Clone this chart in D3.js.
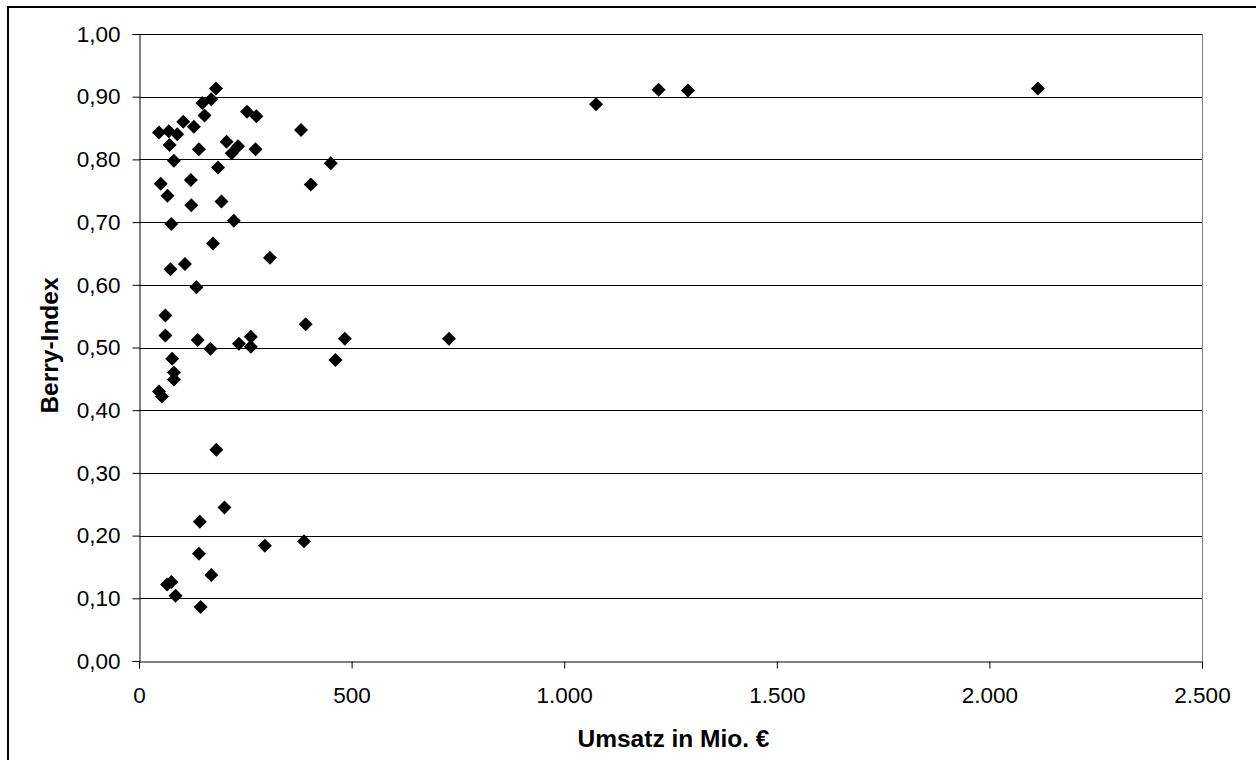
<!DOCTYPE html>
<html>
<head>
<meta charset="utf-8">
<script src="https://cdn.jsdelivr.net/npm/d3@7"></script>
<style>
    body { margin: 0; background: #fff; }
    svg { display: block; font-family: Arial, "Liberation Sans", sans-serif; }
</style>
</head>
<body>
<svg id="chart"></svg>
<script>
// Umsatz in Mio. € (x) and Berry-Index (y)
let umsatz = [181, 170, 149, 154, 254, 276, 104, 129, 47, 70, 90, 72, 381, 141, 206, 233, 218, 274,
    82, 186, 451, 51, 122, 404, 67, 123, 194, 76, 223, 174, 308, 74, 108, 135, 62, 62, 138, 168, 235,
    263, 263, 392, 484, 462, 78, 82, 82, 47, 54, 182, 201, 143, 141, 170, 296, 388, 66, 76, 86, 145,
    729, 1075, 1222, 1291, 2114];
let berry = [0.913, 0.896, 0.890, 0.870, 0.876, 0.869, 0.860, 0.852, 0.843, 0.845, 0.840, 0.823, 0.847,
    0.816, 0.828, 0.821, 0.810, 0.816, 0.798, 0.787, 0.794, 0.761, 0.767, 0.760, 0.742, 0.727, 0.733,
    0.697, 0.702, 0.666, 0.643, 0.625, 0.633, 0.596, 0.551, 0.519, 0.512, 0.498, 0.506, 0.517, 0.501,
    0.537, 0.514, 0.480, 0.482, 0.460, 0.449, 0.430, 0.422, 0.337, 0.245, 0.222, 0.171, 0.137, 0.184,
    0.191, 0.122, 0.126, 0.104, 0.086, 0.514, 0.888, 0.911, 0.910, 0.913];
let xTicks = [0, 500, 1000, 1500, 2000, 2500];
let yTicks = [0, 0.1, 0.2, 0.3, 0.4, 0.5, 0.6, 0.7, 0.8, 0.9, 1.0];

let width = 1256,
    height = 760;

let margin = {
    left: 139,
    right: 54,
    top: 34,
    bottom: 99
};

let de = d3.formatLocale({ decimal: ',', thousands: '.', grouping: [3], currency: ['', ' €'] });

let svg = d3.select('#chart')
    .attr('width', width)
    .attr('height', height);

// outer chart frame (right and bottom edges fall outside the picture)
svg.append('rect')
    .attr('x', 8)
    .attr('y', 7)
    .attr('width', 1256)
    .attr('height', 760)
    .attr('fill', 'none')
    .attr('stroke', '#000')
    .attr('stroke-width', 2);

let scaleX = d3.scaleLinear()
    .domain([0, 2500])
    .range([margin.left, width - margin.right]);

let scaleY = d3.scaleLinear()
    .domain([0, 1])
    .range([height - margin.bottom, margin.top]);

// gridlines
svg.append('g')
    .selectAll('line')
    .data(yTicks.slice(1))
    .enter()
    .append('line')
    .attr('x1', scaleX(0))
    .attr('x2', scaleX(2500))
    .attr('y1', d => Math.round(scaleY(d)) + 0.5)
    .attr('y2', d => Math.round(scaleY(d)) + 0.5)
    .attr('stroke', '#000')
    .attr('stroke-width', 1);

// right border of the plot area
svg.append('line')
    .attr('x1', Math.round(scaleX(2500)) + 0.5)
    .attr('x2', Math.round(scaleX(2500)) + 0.5)
    .attr('y1', scaleY(1))
    .attr('y2', scaleY(0))
    .attr('stroke', '#808080');

// x axis
let xAxis = d3.axisBottom(scaleX)
    .tickValues(xTicks)
    .tickSize(7)
    .tickPadding(19)
    .tickFormat(de.format(',.0f'));

let xAxisG = svg.append('g')
    .attr('transform', `translate(0, ${Math.round(scaleY(0)) + 0.5})`)
    .call(xAxis);

// y axis
let yAxis = d3.axisLeft(scaleY)
    .tickValues(yTicks)
    .tickSize(7)
    .tickPadding(12)
    .tickFormat(de.format('.2f'));

let yAxisG = svg.append('g')
    .attr('transform', `translate(${Math.round(scaleX(0)) + 0.5}, 0)`)
    .call(yAxis);

[xAxisG, yAxisG].forEach(g => {
    g.select('.domain').attr('stroke', '#000');
    g.selectAll('.tick line').attr('stroke', '#000');
    g.selectAll('.tick text')
        .attr('fill', '#000')
        .style('font-size', '22.5px')
        .style('font-family', 'Arial, "Liberation Sans", sans-serif');
});

// axis titles
svg.append('text')
    .attr('x', (scaleX(0) + scaleX(2500)) / 2 + 3)
    .attr('y', 747)
    .attr('text-anchor', 'middle')
    .style('font-size', '24.5px')
    .style('font-weight', 'bold')
    .text('Umsatz in Mio. €');

svg.append('text')
    .attr('transform', `translate(58, ${(scaleY(0) + scaleY(1)) / 2 - 2}) rotate(-90)`)
    .attr('text-anchor', 'middle')
    .style('font-size', '24.5px')
    .style('font-weight', 'bold')
    .text('Berry-Index');

// diamonds
let points = umsatz.map((u, i) => ({ u: u, b: berry[i] }));
let r = 7;

svg.append('g')
    .selectAll('path')
    .data(points)
    .enter()
    .append('path')
    .attr('d', `M0,${-r}L${r},0L0,${r}L${-r},0Z`)
    .attr('transform', d => `translate(${scaleX(d.u)}, ${scaleY(d.b)})`)
    .attr('fill', '#000');
</script>
</body>
</html>
